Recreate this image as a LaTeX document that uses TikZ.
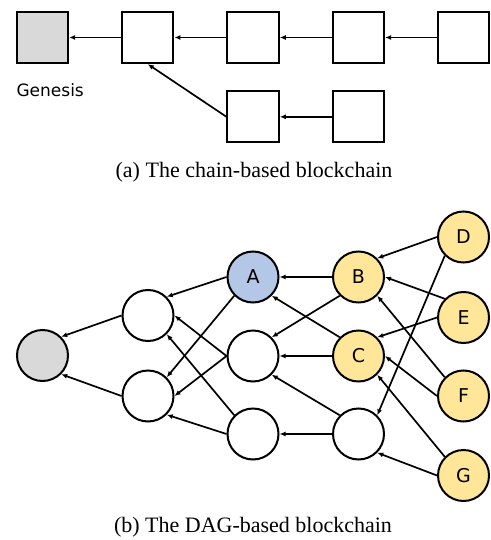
\documentclass[tikz,border=0pt]{standalone}
\usepackage{fontspec}
\setmainfont{Liberation Serif}
\setsansfont{DejaVu Sans}
\usepackage{tikz}
\usetikzlibrary{positioning, arrows.meta}
\definecolor{genesisgray}{HTML}{D9D9D9}
\definecolor{tipblue}{HTML}{B4C7E7}
\definecolor{tipyellow}{HTML}{FFE699}

\begin{document}
\begin{tikzpicture}[
    x=1pt, y=-1pt,
    >={Latex[width=5pt,length=6pt]},
    block/.style={rectangle, draw=black, line width=2pt, fill=white, minimum size=51.3pt, inner sep=0pt},
    vertex/.style={circle, draw=black, line width=2pt, fill=white, minimum size=51pt, inner sep=0pt, font=\sffamily\fontsize{19}{19}\selectfont},
    ref/.style={->, line width=1.7pt},
    caption/.style={font=\fontsize{22}{22}\selectfont},
    node distance=52pt % gap between neighbouring blocks
]
\useasboundingbox (0,0) rectangle (490,540);

% Chain-based blockchain
\node[block, fill=genesisgray] (s0) at (42.5,37.5) {};
\node[block] (s1) [right=of s0] {};
\node[block] (s2) [right=of s1] {};
\node[block] (s3) [right=of s2] {};
\node[block] (s4) [right=of s3] {};
\node[block] (f1) [below=26pt of s2] {};
\node[block] (f2) [right=of f1] {};
\node[font=\sffamily\fontsize{17}{17}\selectfont, anchor=base west] (glabel) at (13,97) {Genesis};

\draw[ref] (s1) -- (s0);
\draw[ref] (s2) -- (s1);
\draw[ref] (s3) -- (s2);
\draw[ref] (s4) -- (s3);
\draw[ref] (f2) -- (f1);
\draw[ref] (f1.west) -- (s1.south);

\node[caption, anchor=base] (capa) at (254,178) {(a) The chain-based blockchain};

% DAG-based blockchain
\node[vertex, fill=genesisgray] (g) at (42.5,355.5) {};
\node[vertex] (p1) at (148,315.5) {};
\node[vertex] (p2) at (148,396) {};
\node[vertex, fill=tipblue] (A) at (253,277) {A};
\node[vertex] (q1) at (253,356) {};
\node[vertex] (q2) at (253,434) {};
\node[vertex, fill=tipyellow] (B) at (358.5,277) {B};
\node[vertex, fill=tipyellow] (C) at (358.5,356) {C};
\node[vertex] (r1) at (358.5,434) {};
\node[vertex, fill=tipyellow] (D) at (463.5,237) {D};
\node[vertex, fill=tipyellow] (E) at (463.5,317.5) {E};
\node[vertex, fill=tipyellow] (F) at (463.5,396) {F};
\node[vertex, fill=tipyellow] (G) at (463.5,475.5) {G};

% References to earlier blocks
\draw[ref] (p1.west) -- (g.north east);
\draw[ref] (p2.west) -- (g.south east);
\draw[ref] (A.west) -- (p1.north east);
\draw[ref] (A.south west) -- (p2.north east);
\draw[ref] (q1.west) -- (p1.east);
\draw[ref] (q1.west) -- (p2.east);
\draw[ref] (q2.north west) -- (p1.south east);
\draw[ref] (q2.west) -- (p2.south east);
\draw[ref] (B.west) -- (A.east);
\draw[ref] (B.south west) -- (q1.north east);
\draw[ref] (C.north west) -- (A.south east);
\draw[ref] (C.west) -- (q1.east);
\draw[ref] (r1.north west) -- (q1.south east);
\draw[ref] (r1.west) -- (q2.east);
\draw[ref] (D.west) -- (B.north east);
\draw[ref] (D.south west) -- (r1.north east);
\draw[ref] (E.north west) -- (B.east);
\draw[ref] (E.west) -- (C.north east);
\draw[ref] (F.north west) -- (B.south east);
\draw[ref] (F.west) -- (C.east);
\draw[ref] (G.north west) -- (C.south east);
\draw[ref] (G.west) -- (r1.south east);

\node[caption, anchor=base] (capb) at (253,532) {(b) The DAG-based blockchain};

\end{tikzpicture}
\end{document}
